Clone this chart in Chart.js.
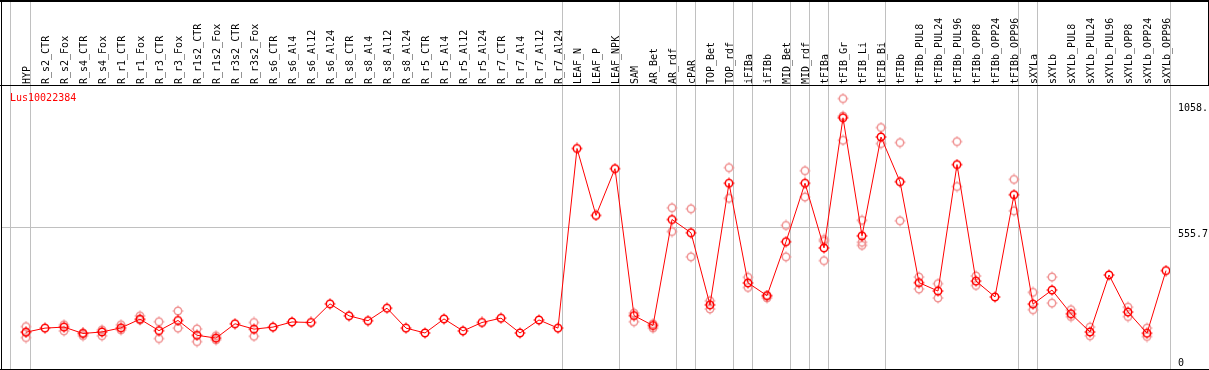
<!DOCTYPE html>
<html>
<head>
<meta charset="utf-8">
<script src="https://cdn.jsdelivr.net/npm/chart.js@4.4.0/dist/chart.umd.min.js"></script>
<style>
  html, body { margin: 0; padding: 0; background: #fff; }
  #chart { display: block; }
</style>
</head>
<body>
<canvas id="chart" width="1209" height="370"></canvas>
<script>
    // Sample names (one column per sample)
    const labels = ['HYP', 'R_s2_CTR', 'R_s2_Fox', 'R_s4_CTR', 'R_s4_Fox', 'R_r1_CTR', 'R_r1_Fox', 'R_r3_CTR', 'R_r3_Fox',
      'R_r1s2_CTR', 'R_r1s2_Fox', 'R_r3s2_CTR', 'R_r3s2_Fox', 'R_s6_CTR', 'R_s6_Al4', 'R_s6_Al12', 'R_s6_Al24',
      'R_s8_CTR', 'R_s8_Al4', 'R_s8_Al12', 'R_s8_Al24', 'R_r5_CTR', 'R_r5_Al4', 'R_r5_Al12', 'R_r5_Al24',
      'R_r7_CTR', 'R_r7_Al4', 'R_r7_Al12', 'R_r7_Al24', 'LEAF_N', 'LEAF_P', 'LEAF_NPK', 'SAM', 'AR_Bet', 'AR_rdf',
      'cPAR', 'TOP_Bet', 'TOP_rdf', 'iFIBa', 'iFIBb', 'MID_Bet', 'MID_rdf', 'tFIBa', 'tFIB_Gr', 'tFIB_Li', 'tFIB_Bi',
      'tFIBb', 'tFIBb_PUL8', 'tFIBb_PUL24', 'tFIBb_PUL96', 'tFIBb_OPP8', 'tFIBb_OPP24', 'tFIBb_OPP96',
      'sXYLa', 'sXYLb', 'sXYLb_PUL8', 'sXYLb_PUL24', 'sXYLb_PUL96', 'sXYLb_OPP8', 'sXYLb_OPP24', 'sXYLb_OPP96'];

    const geneName = 'Lus10022384';

    // mean expression per sample
    const means = [144, 160, 164, 139, 145, 161, 195, 150, 190, 132,
      121, 177, 156, 164, 184, 182, 255, 208, 189, 238,
      160, 141, 196, 149, 182, 199, 141, 192, 160, 863,
      601, 784, 209, 170, 585, 533, 251, 727, 337, 287,
      498, 727, 474, 983, 521, 908, 733, 338, 305, 800,
      344, 282, 682, 254, 309, 216, 145, 368, 223, 140,
      385];

    // replicates (null = not shown)
    const rep1 = [166, null, 173, 141, 153, 173, 208, 185, 227, 157,
      130, null, 182, null, null, null, null, null, null, null,
      null, null, null, null, null, null, null, null, null, null,
      null, null, 219, 177, 631, 627, 267, 788, 359, 287,
      562, 776, 507, 1058.3, 582, 945, 886, 360, 334, 890,
      364, null, 742, 300, 360, 232, 164, null, 242, 160,
      null];
    const rep2 = [123, null, 149, 130, 130, 153, 192, 119, 160, 107,
      114, null, 128, null, null, null, null, null, null, null,
      null, null, null, null, null, null, null, null, null, null,
      null, null, 185, 160, 538, 439, 235, 668, 319, 278,
      439, 673, 424, 895, 484, 882, 580, 313, 278, 714,
      327, null, 619, 232, 258, 205, 130, null, 205, 127,
      null];
    const rep3 = [145, null, null, null, null, null, null, null, null, null,
      null, null, null, null, null, null, null, null, null, null,
      null, null, null, null, null, null, null, null, null, null,
      null, null, null, null, null, null, null, null, null, null,
      null, null, 500, 990, 496, null, null, null, null, null,
      null, null, null, null, null, null, null, null, null, null,
      null];

    // last sample of each group (gray separators)
    const groupEnds = [0, 28, 31, 34, 35, 37, 38, 40, 41, 42, 45, 52, 53, 60];

    // y axis labels on the right
    const yMax = 1111.4;
    const yLabels = ['1058.', '555.7', '0'];
    const yLabelValues = [1058.3, 555.7, 0];

    const step = 1 / 19;
    const boundaries = [-15 * step].concat(groupEnds.map((i) => i + 4 * step));

    // little circle marker with ticks
    function marker(color) {
      const c = document.createElement('canvas');
      c.width = 12;
      c.height = 12;
      const g = c.getContext('2d');
      g.strokeStyle = color;
      g.lineWidth = 1.5;
      g.beginPath();
      g.arc(6, 6, 3.7, 0, Math.PI * 2);
      g.stroke();
      g.lineWidth = 1;
      g.beginPath();
      g.moveTo(6, 0.5); g.lineTo(6, 2.5);
      g.moveTo(6, 9.5); g.lineTo(6, 11.5);
      g.moveTo(0.5, 6); g.lineTo(2.5, 6);
      g.moveTo(9.5, 6); g.lineTo(11.5, 6);
      g.stroke();
      return c;
    }

    const meanPoints = means.map((v, i) => ({ x: i, y: v }));
    const repPoints = [];
    [rep1, rep2, rep3].forEach((arr) => {
      arr.forEach((v, i) => {
        if (v !== null) repPoints.push({ x: i, y: v });
      });
    });

    const mono = '10px "DejaVu Sans Mono", "Liberation Mono", monospace';

    // frame, sample names and value labels
    const framePlugin = {
      id: 'frame',
      afterDraw(chart) {
        const ctx = chart.ctx;
        const xs = chart.scales.x;
        const ys = chart.scales.y;
        const W = chart.width;
        ctx.save();
        ctx.fillStyle = '#000';
        ctx.fillRect(0, 0, W, 2);
        ctx.fillRect(1, 0, 1, 370);
        ctx.fillRect(0, 85, W, 1);
        ctx.fillRect(0, 369, W, 1);
        ctx.fillRect(W - 1, 0, 1, 86);

        ctx.font = mono;
        ctx.textAlign = 'left';
        ctx.textBaseline = 'alphabetic';
        labels.forEach((name, i) => {
          const px = xs.getPixelForValue(i);
          ctx.save();
          ctx.translate(px + 4, 84);
          ctx.rotate(-Math.PI / 2);
          ctx.fillText(name, 0, 0);
          ctx.restore();
        });

        ctx.fillStyle = '#ff0000';
        ctx.fillText(geneName, 10, 101);

        ctx.fillStyle = '#000';
        const offs = [12, 9.5, -3.5];
        yLabels.forEach((t, k) => {
          ctx.fillText(t, 1178, ys.getPixelForValue(yLabelValues[k]) + offs[k]);
        });
        ctx.restore();
      }
    };

    const ctx = document.getElementById('chart').getContext('2d');
    new Chart(ctx, {
      type: 'line',
      data: {
        datasets: [{
          label: geneName,
          data: meanPoints,
          borderColor: '#ff0000',
          borderWidth: 1,
          tension: 0,
          fill: false,
          pointStyle: marker('#ff0000'),
          pointRadius: 5
        }, {
          label: 'replicates',
          data: repPoints,
          showLine: false,
          pointStyle: marker('#f09595'),
          pointRadius: 5
        }]
      },
      options: {
        responsive: false,
        devicePixelRatio: 1,
        animation: false,
        events: [],
        layout: { autoPadding: false, padding: { left: 2, right: 39, top: 0, bottom: 1 } },
        plugins: {
          legend: { display: false },
          tooltip: { enabled: false }
        },
        scales: {
          x: {
            type: 'linear',
            position: 'top',
            min: -24 * step,
            max: 60 + 4 * step,
            ticks: { display: false },
            grid: { color: '#c0c0c0', lineWidth: 1, tickLength: 85, drawTicks: true },
            border: { display: false },
            afterBuildTicks: (s) => { s.ticks = boundaries.map((v) => ({ value: v })); }
          },
          y: {
            type: 'linear',
            position: 'right',
            min: 0,
            max: yMax,
            ticks: { display: false },
            grid: { color: '#c0c0c0', lineWidth: 1, drawTicks: false },
            border: { display: false },
            afterBuildTicks: (s) => { s.ticks = [{ value: 555.7 }]; }
          }
        }
      },
      plugins: [framePlugin]
    });
</script>
</body>
</html>
